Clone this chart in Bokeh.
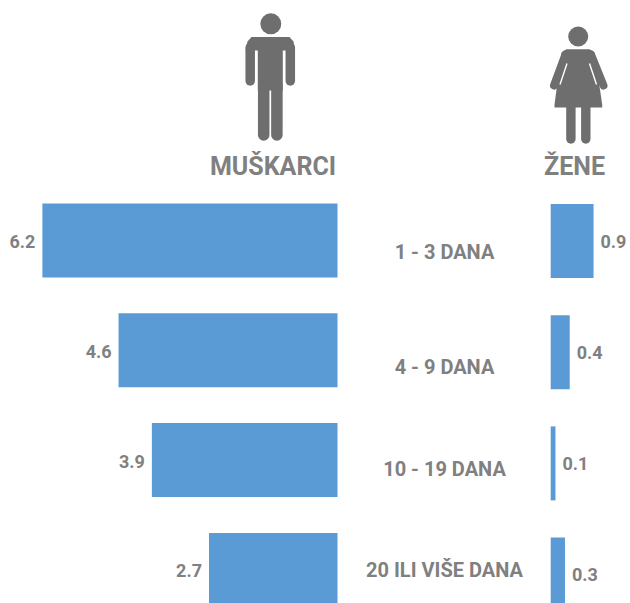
from bokeh.plotting import figure
from bokeh.models import Range1d, ColumnDataSource
from bokeh.core.properties import value
from bokeh.embed import file_html
from bokeh.resources import INLINE

categories = ["1 - 3 DANA", "4 - 9 DANA", "10 - 19 DANA", "20 ILI VIŠE DANA"]
muskarci = [6.2, 4.6, 3.9, 2.7]
zene = [0.9, 0.4, 0.1, 0.3]
group_titles = ["MUŠKARCI", "ŽENE"]

BLUE = "#5b9bd5"
GREY = "#808080"
ICON = "#6e6e6e"
FONT = value("Roboto")

W, H = 630, 603
UNIT = 47.6            # pixels per value unit
M0, F0 = 337.0, 550.2  # x of the two baselines
MY0, MSTEP = 240.0, 109.8
FY0, FSTEP = 240.5, 111.2
BAR_PX = 74

p = figure(width=W, height=H, output_backend="svg", toolbar_location=None,
           x_range=Range1d(M0 / UNIT, (M0 - W) / UNIT),
           y_range=Range1d((H - MY0) / MSTEP, -MY0 / MSTEP),
           min_border=0, outline_line_color=None, background_fill_color="white")
p.axis.visible = False
p.grid.visible = False
p.extra_x_ranges = {"f": Range1d(-F0 / UNIT, (W - F0) / UNIT),
                    "px": Range1d(0, W)}
p.extra_y_ranges = {"f": Range1d((H - FY0) / FSTEP, -FY0 / FSTEP),
                    "px": Range1d(H, 0)}

idx = list(range(len(categories)))
ms = ColumnDataSource(dict(y=idx, v=muskarci, t=[str(v) for v in muskarci]))
fs = ColumnDataSource(dict(y=idx, v=zene, t=[str(v) for v in zene]))

p.hbar(y="y", left=0, right="v", height=BAR_PX / MSTEP, source=ms,
       fill_color=BLUE, line_color=None)
p.hbar(y="y", left=0, right="v", height=BAR_PX / FSTEP, source=fs,
       fill_color=BLUE, line_color=None, x_range_name="f", y_range_name="f")

p.text(x="v", y="y", text="t", source=ms, x_offset=-7, y_offset=1, text_align="right",
       text_baseline="middle", text_color=GREY, text_font=FONT,
       text_font_size="18px", text_font_style="bold")
p.text(x="v", y="y", text="t", source=fs, x_offset=7, y_offset=0, text_align="left",
       text_baseline="middle", text_color=GREY, text_font=FONT,
       text_font_size="18px", text_font_style="bold",
       x_range_name="f", y_range_name="f")

# category labels sit at uneven heights in the reference
cat_src = ColumnDataSource(dict(x=[444, 444, 444, 444], y=[251, 366, 468, 569], t=categories))
p.text(x="x", y="y", text="t", source=cat_src, text_align="center", text_baseline="middle",
       text_color=GREY, text_font=FONT, text_font_size="20px", text_font_style="bold",
       x_range_name="px", y_range_name="px")

head_src = ColumnDataSource(dict(x=[272.5, 574], y=[166, 166], t=group_titles))
p.text(x="x", y="y", text="t", source=head_src, text_align="center", text_baseline="middle",
       text_color=GREY, text_font=FONT, text_font_size="25px", text_font_style="bold",
       x_range_name="px", y_range_name="px")

kw = dict(x_range_name="px", y_range_name="px")

# man pictogram
p.ellipse(x=[270.3], y=[23.3], width=21, height=21, fill_color=ICON, line_color=None, **kw)
p.patch(x=[245, 247, 251, 289, 293, 294.5, 285, 254], y=[50, 41, 36.5, 36.5, 41, 50, 50, 50],
        fill_color=ICON, line_color=None, **kw)
p.quad(left=[257.3], right=[282.3], top=[37], bottom=[90], fill_color=ICON, line_color=None, **kw)
for x_ in (249.7, 289.8):
    p.line(x=[x_, x_], y=[47, 80.5], line_width=9.5, line_cap="round", line_color=ICON, **kw)
for x_ in (263.2, 276.4):
    p.line(x=[x_, x_], y=[85, 134.5], line_width=11.5, line_cap="round", line_color=ICON, **kw)

# woman pictogram
p.ellipse(x=[577.7], y=[36], width=20, height=20, fill_color=ICON, line_color=None, **kw)
p.patch(x=[566, 589, 594, 601.7, 601.7, 554, 554, 561],
        y=[48.7, 48.7, 52, 104, 107, 107, 104, 52],
        fill_color=ICON, line_color=None, **kw)
p.line(x=[565, 553.5], y=[54, 85], line_width=8, line_cap="round", line_color=ICON, **kw)
p.line(x=[590.5, 603], y=[54, 85], line_width=8, line_cap="round", line_color=ICON, **kw)
p.line(x=[566.5, 559.5], y=[63, 84], line_width=1.4, line_color="white", **kw)
p.line(x=[589, 596], y=[63, 84], line_width=1.4, line_color="white", **kw)
for x_ in (570.4, 585.3):
    p.line(x=[x_, x_], y=[105, 138.5], line_width=9.4, line_cap="round", line_color=ICON, **kw)

open("out.html", "w").write(file_html(p, INLINE))
